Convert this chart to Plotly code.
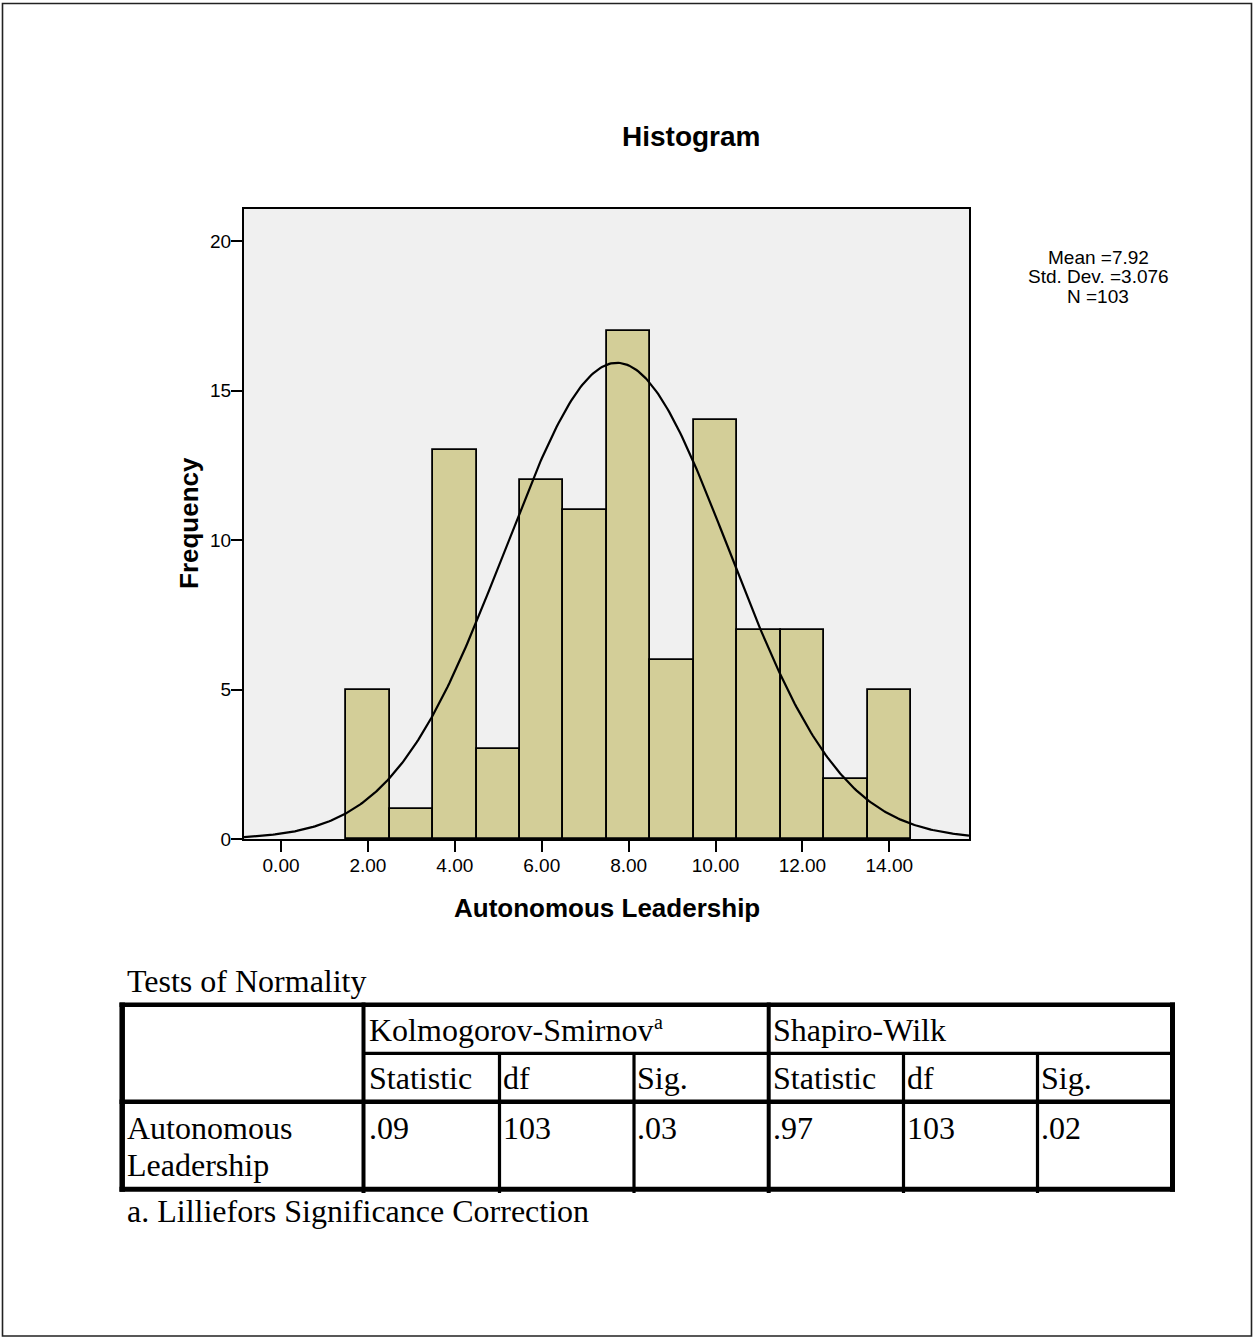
import numpy as np
import plotly.graph_objects as go

# Histogram of Autonomous Leadership scores (bin width 1)
bin_centers = [2, 3, 4, 5, 6, 7, 8, 9, 10, 11, 12, 13, 14]
frequencies = [5, 1, 13, 3, 12, 11, 17, 6, 14, 7, 7, 2, 5]
bin_width = 1.0

# Summary statistics printed beside the chart
stat_lines = ["Mean =7.92", "Std. Dev. =3.076", "N =103"]

# Normal curve overlaid on the histogram
curve_mean = 7.73
curve_sd = 2.58
curve_n = 103

x_ticks = [0, 2, 4, 6, 8, 10, 12, 14]
x_tick_labels = ["0.00", "2.00", "4.00", "6.00", "8.00", "10.00", "12.00", "14.00"]
y_ticks = [0, 5, 10, 15, 20]

# Tests of Normality table
table_title = "Tests of Normality"
group_headers = ["Kolmogorov-Smirnov", "Shapiro-Wilk"]
footnote_mark = "a"
col_headers = ["Statistic", "df", "Sig.", "Statistic", "df", "Sig."]
row_label = ["Autonomous", "Leadership"]
row_values = [".09", "103", ".03", ".97", "103", ".02"]
footnote = "a. Lilliefors Significance Correction"

# ---- page geometry (pixels) ----
W, H = 1255, 1338
L, R, T, B = 244, 969, 209, 839
PW, PH = R - L, B - T
x_range = [-0.852, 15.834]
y_range = [0, 21.07]


def px(x):
    return (x - L) / PW


def py(y):
    return 1 - (y - T) / PH


fig = go.Figure()

fig.add_trace(go.Bar(
    x=bin_centers, y=frequencies, width=bin_width,
    marker=dict(color="#D3CE98", line=dict(color="black", width=1.8)),
    hoverinfo="x+y", showlegend=False,
))

xs = np.linspace(x_range[0], x_range[1], 400)
ys = curve_n * bin_width / (curve_sd * np.sqrt(2 * np.pi)) * np.exp(-0.5 * ((xs - curve_mean) / curve_sd) ** 2)
fig.add_trace(go.Scatter(
    x=xs, y=ys, mode="lines", line=dict(color="black", width=2.2),
    hoverinfo="skip", showlegend=False,
))

sans = "Liberation Sans, Arial"
serif = "Liberation Serif, Times New Roman"

fig.update_xaxes(
    range=x_range, tickvals=x_ticks, ticktext=x_tick_labels,
    ticks="outside", ticklen=11, tickwidth=2, tickcolor="black",
    ticklabelstandoff=-3,
    showline=True, linecolor="black", linewidth=2, mirror=True,
    showgrid=False, zeroline=False,
    tickfont=dict(family=sans, size=19, color="black"),
)
fig.update_yaxes(
    range=y_range, tickvals=y_ticks,
    ticks="outside", ticklen=11, tickwidth=2, tickcolor="black",
    ticklabelstandoff=-4,
    showline=True, linecolor="black", linewidth=2, mirror=True,
    showgrid=False, zeroline=False,
    tickfont=dict(family=sans, size=19, color="black"),
)

annotations = []

annotations.append(dict(text="<b>Histogram</b>", x=px(690.5), y=py(137), xanchor="center", yanchor="middle",
                        font=dict(family=sans, size=28, color="black")))
annotations.append(dict(text="<b>Autonomous Leadership</b>", x=px(607), y=py(908), xanchor="center", yanchor="middle",
                        font=dict(family=sans, size=26, color="black")))
annotations.append(dict(text="<b>Frequency</b>", x=px(189), y=py(523), xanchor="center", yanchor="middle",
                        textangle=-90, font=dict(family=sans, size=26, color="black")))
for i, line in enumerate(stat_lines):
    annotations.append(dict(text=line, x=px(1098), y=py(257 + 19.5 * i), xanchor="center", yanchor="middle",
                            font=dict(family=sans, size=19, color="black")))


# table text
def cell_text(t, x, y, size=32):
    annotations.append(dict(text=t, x=px(x), y=py(y), xanchor="left", yanchor="middle",
                            font=dict(family=serif, size=size, color="black")))


cell_text(table_title, 125, 981)
cell_text(group_headers[0], 367, 1030)
cell_text(footnote_mark, 652, 1022, size=20)
cell_text(group_headers[1], 771, 1030)
col_x = [367, 501, 635, 771, 905, 1039]
for cx, t in zip(col_x, col_headers):
    cell_text(t, cx, 1078)
cell_text(row_label[0], 125, 1128)
cell_text(row_label[1], 125, 1165)
for cx, t in zip(col_x, row_values):
    cell_text(t, cx, 1128)
cell_text(footnote, 125, 1211)

for a in annotations:
    a.update(xref="paper", yref="paper", showarrow=False)

# table rules
shapes = []


def hline(y, x0, x1, w):
    shapes.append(dict(type="line", xref="paper", yref="paper", x0=px(x0), x1=px(x1), y0=py(y), y1=py(y),
                       line=dict(color="black", width=w)))


def vline(x, y0, y1, w):
    shapes.append(dict(type="line", xref="paper", yref="paper", x0=px(x), x1=px(x), y0=py(y0), y1=py(y1),
                       line=dict(color="black", width=w)))


hline(1004.7, 119.5, 1175, 4.5)
hline(1053.3, 363.5, 1175, 3.2)
hline(1101.7, 119.5, 1175, 4.5)
hline(1189.2, 119.5, 1175, 5)
vline(122.2, 1002.5, 1191.7, 5.5)
vline(1172.5, 1002.5, 1191.7, 5)
vline(363.5, 1002.5, 1193, 4)
vline(768.7, 1002.5, 1193, 4)
for vx in [499.5, 634, 903.5, 1037.5]:
    vline(vx, 1053.3, 1193, 3.2)

# page frame
shapes.append(dict(type="rect", xref="paper", yref="paper", x0=px(2.5), x1=px(1251.5), y0=py(3.5), y1=py(1336),
                   line=dict(color="#222222", width=1.6), fillcolor="rgba(0,0,0,0)"))

fig.update_layout(
    width=W, height=H, autosize=False,
    margin=dict(l=L, r=W - R, t=T, b=H - B, pad=0),
    paper_bgcolor="white", plot_bgcolor="#F0F0F0",
    bargap=0, annotations=annotations, shapes=shapes,
    font=dict(family=sans, color="black"),
)

fig.write_html("out.html")
